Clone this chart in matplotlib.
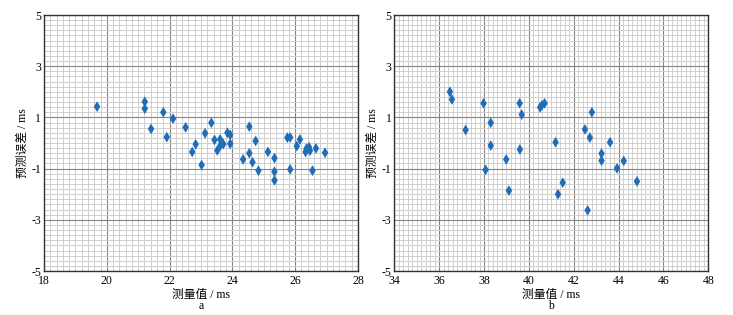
import numpy as np
import matplotlib
matplotlib.use('Agg')
import matplotlib.pyplot as plt
from matplotlib.ticker import MultipleLocator

plt.rcParams['font.family'] = ['Liberation Serif', 'Noto Sans CJK SC']

# panel a
xa = [19.69, 21.21, 21.21, 21.80, 22.11, 21.41, 21.91, 22.51, 23.33, 23.13,
      23.43, 23.61, 23.84, 23.93, 23.93, 23.62, 23.71, 23.52, 22.83, 22.72,
      23.02, 24.54, 24.74, 24.54, 24.34, 24.64, 24.83, 25.13, 25.34, 25.34,
      25.34, 25.75, 25.84, 25.84, 26.05, 26.15, 26.33, 26.36, 26.44, 26.47,
      26.55, 26.66, 26.95]
ya = [1.42, 1.61, 1.34, 1.20, 0.95, 0.55, 0.23, 0.61, 0.79, 0.38,
      0.12, 0.14, 0.40, 0.32, -0.03, -0.09, -0.04, -0.29, -0.05, -0.35,
      -0.86, 0.64, 0.08, -0.40, -0.64, -0.75, -1.08, -0.35, -0.59, -1.12,
      -1.46, 0.21, 0.22, -1.03, -0.12, 0.14, -0.35, -0.22, -0.16, -0.30,
      -1.08, -0.21, -0.38]

# panel b
xb = [36.48, 36.57, 37.18, 37.98, 38.07, 38.30, 38.30, 38.99, 39.11, 39.59,
      39.68, 39.60, 40.50, 40.58, 40.70, 41.19, 41.30, 41.51, 42.50, 42.72,
      42.81, 42.62, 43.24, 43.24, 43.62, 43.93, 44.23, 44.82]
yb = [2.00, 1.70, 0.51, 1.55, -1.05, 0.79, -0.10, -0.64, -1.86, 1.55,
      1.11, -0.25, 1.39, 1.47, 1.55, 0.03, -2.00, -1.55, 0.53, 0.21,
      1.20, -2.63, -0.41, -0.69, 0.03, -0.99, -0.70, -1.50]

xlabel = '测量值 / ms'
ylabel = '预测误差 / ms'
yticks = [5, 3, 1, -1, -3, -5]

fig = plt.figure(figsize=(7.33, 3.15), dpi=100)
W, H = 733, 315
panels = [
    (44, xa, ya, (18, 28), np.arange(18, 29, 2), 'a'),
    (394.3, xb, yb, (34, 48), np.arange(34, 49, 2), 'b'),
]

for left, xs, ys, xlim, xt, tag in panels:
    ax = fig.add_axes([left / W, 1 - 271 / H, 314 / W, 256 / H])
    ax.set_xlim(*xlim)
    ax.set_ylim(-5, 5)
    ax.xaxis.set_major_locator(MultipleLocator(1))
    ax.xaxis.set_minor_locator(MultipleLocator(0.2))
    ax.yaxis.set_major_locator(MultipleLocator(1))
    ax.yaxis.set_minor_locator(MultipleLocator(0.2))
    ax.grid(which='minor', color='#cfcfcf', linewidth=0.7)
    ax.grid(which='major', color='#858585', linewidth=0.8)
    ax.set_axisbelow(True)
    ax.set_xticks(xt)
    ax.set_xticklabels([str(v) for v in xt])
    ax.set_yticks(yticks)
    ax.set_yticklabels([str(v) for v in yticks])
    ax.tick_params(which='both', length=0)
    ax.tick_params(axis='x', labelsize=8.5, pad=3)
    ax.tick_params(axis='y', labelsize=8.5, pad=2)
    for s in ax.spines.values():
        s.set_color('#333333')
        s.set_linewidth(1.0)
    ax.scatter(xs, ys, marker='d', s=30, color='#1f6cb8', edgecolors='none', zorder=3)
    ax.set_xlabel(xlabel, fontsize=8.5, labelpad=1)
    ax.set_ylabel(ylabel, fontsize=8.5, labelpad=2)
    ax.text(0.5, -0.137, tag, transform=ax.transAxes, ha='center', va='center', fontsize=8.5)

fig.savefig('out.png', dpi=100)
